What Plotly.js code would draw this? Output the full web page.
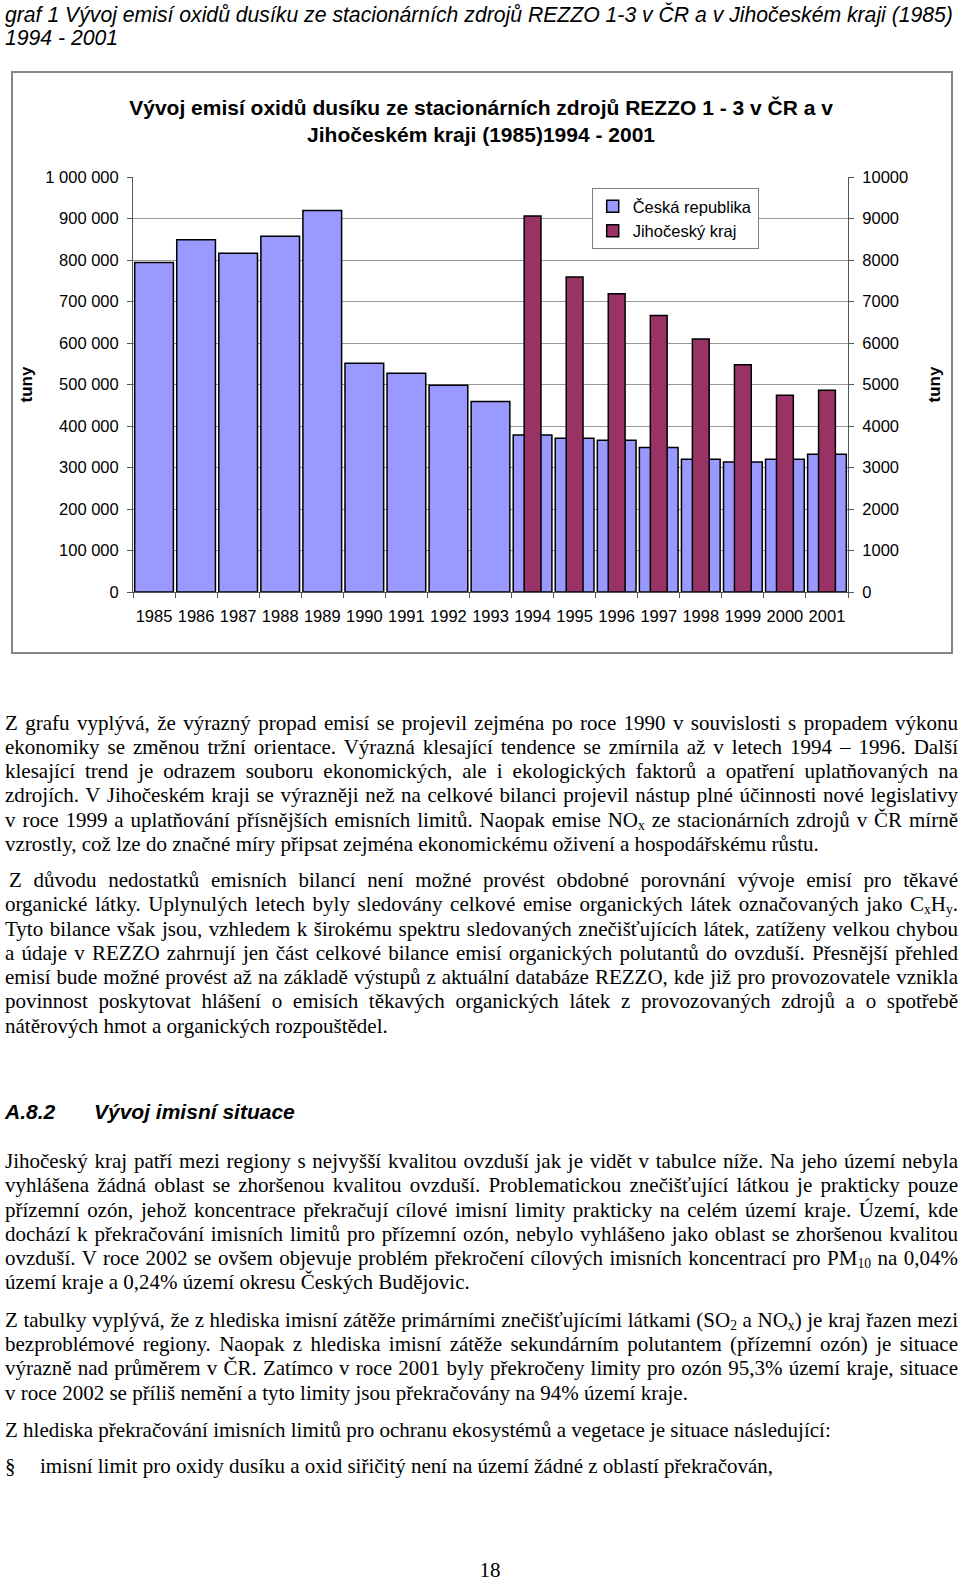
<!DOCTYPE html>
<html>
<head>
<meta charset="utf-8">
<script src="https://cdn.plot.ly/plotly-3.0.1.min.js"></script>
<style>
  html, body { margin: 0; padding: 0; background: #fff; }
  body { width: 960px; height: 1584px; position: relative; overflow: hidden; }
  .caption { position: absolute; left: 5px; top: 4px; font-family: "Liberation Sans", Arial, sans-serif; font-style: italic; font-size: 21.2px; line-height: 22.6px; white-space: nowrap; color: #000; }
  #chartbox { position: absolute; left: 11px; top: 71px; width: 938px; height: 579px; border: 2px solid #858585; }
  #chart { width: 938px; height: 579px; }
  .para { position: absolute; left: 5px; width: 953px; font-family: "Liberation Serif", "Times New Roman", serif; font-size: 21px; line-height: 24.3px; color: #000; }
  .ln { text-align: justify; text-align-last: justify; white-space: nowrap; }
  .last { text-align: left; text-align-last: left; }
  sub { font-size: 0.65em; vertical-align: -0.25em; line-height: 0; }
  .heading { position: absolute; left: 5px; top: 1100px; font-family: "Liberation Sans", Arial, sans-serif; font-weight: bold; font-style: italic; font-size: 21px; line-height: 24px; white-space: nowrap; }
  .heading span.t { position: absolute; left: 89px; top: 0; }
  .pnum { position: absolute; left: 0; width: 980px; text-align: center; top: 1558px; font-family: "Liberation Serif", "Times New Roman", serif; font-size: 21px; line-height: 24.3px; }
</style>
</head>
<body>
<div class="caption">graf 1 Vývoj emisí oxidů dusíku ze stacionárních zdrojů REZZO 1-3 v ČR a v Jihočeském kraji (1985)<br>1994 - 2001</div>

<div id="chartbox"><div id="chart"></div></div>

<div class="para" style="top:710.5px">
  <div class="ln">Z grafu vyplývá, že výrazný propad emisí se projevil zejména po roce 1990 v souvislosti s propadem výkonu</div>
  <div class="ln">ekonomiky se změnou tržní orientace. Výrazná klesající tendence se zmírnila až v letech 1994 – 1996. Další</div>
  <div class="ln">klesající trend je odrazem souboru ekonomických, ale i ekologických faktorů a opatření uplatňovaných na</div>
  <div class="ln">zdrojích. V Jihočeském kraji se výrazněji než na celkové bilanci projevil nástup plné účinnosti nové legislativy</div>
  <div class="ln">v roce 1999 a uplatňování přísnějších emisních limitů. Naopak emise NO<sub>x</sub> ze stacionárních zdrojů v ČR mírně</div>
  <div class="ln last">vzrostly, což lze do značné míry připsat zejména ekonomickému oživení a hospodářskému růstu.</div>
</div>

<div class="para" style="top:868px">
  <div class="ln" style="padding-left:4px">Z důvodu nedostatků emisních bilancí není možné provést obdobné porovnání vývoje emisí pro těkavé</div>
  <div class="ln">organické látky. Uplynulých letech byly sledovány celkové emise organických látek označovaných jako C<sub>x</sub>H<sub>y</sub>.</div>
  <div class="ln">Tyto bilance však jsou, vzhledem k širokému spektru sledovaných znečišťujících látek, zatíženy velkou chybou</div>
  <div class="ln">a údaje v REZZO zahrnují jen část celkové bilance emisí organických polutantů do ovzduší. Přesnější přehled</div>
  <div class="ln">emisí bude možné provést až na základě výstupů z aktuální databáze REZZO, kde již pro provozovatele vznikla</div>
  <div class="ln">povinnost poskytovat hlášení o emisích těkavých organických látek z provozovaných zdrojů a o spotřebě</div>
  <div class="ln last">nátěrových hmot a organických rozpouštědel.</div>
</div>

<div class="heading">A.8.2<span class="t">Vývoj imisní situace</span></div>

<div class="para" style="top:1149px">
  <div class="ln">Jihočeský kraj patří mezi regiony s nejvyšší kvalitou ovzduší jak je vidět v tabulce níže. Na jeho území nebyla</div>
  <div class="ln">vyhlášena žádná oblast se zhoršenou kvalitou ovzduší. Problematickou znečišťující látkou je prakticky pouze</div>
  <div class="ln">přízemní ozón, jehož koncentrace překračují cílové imisní limity prakticky na celém území kraje. Území, kde</div>
  <div class="ln">dochází k překračování imisních limitů pro přízemní ozón, nebylo vyhlášeno jako oblast se zhoršenou kvalitou</div>
  <div class="ln">ovzduší. V roce 2002 se ovšem objevuje problém překročení cílových imisních koncentrací pro PM<sub>10</sub> na 0,04%</div>
  <div class="ln last">území kraje a 0,24% území okresu Českých Budějovic.</div>
</div>

<div class="para" style="top:1307.7px">
  <div class="ln">Z tabulky vyplývá, že z hlediska imisní zátěže primárními znečišťujícími látkami (SO<sub>2</sub> a NO<sub>x</sub>) je kraj řazen mezi</div>
  <div class="ln">bezproblémové regiony. Naopak z hlediska imisní zátěže sekundárním polutantem (přízemní ozón) je situace</div>
  <div class="ln">výrazně nad průměrem v ČR. Zatímco v roce 2001 byly překročeny limity pro ozón 95,3% území kraje, situace</div>
  <div class="ln last">v roce 2002 se příliš nemění a tyto limity jsou překračovány na 94% území kraje.</div>
</div>

<div class="para" style="top:1418px">
  <div class="ln last">Z hlediska překračování imisních limitů pro ochranu ekosystémů a vegetace je situace následující:</div>
</div>

<div class="para" style="top:1454px">
  <div class="ln last">§<span style="position:absolute; left:35px">imisní limit pro oxidy dusíku a oxid siřičitý není na území žádné z oblastí překračován,</span></div>
</div>

<div class="pnum">18</div>

<script>
// ---- data ----
var years = ['1985','1986','1987','1988','1989','1990','1991','1992','1993','1994','1995','1996','1997','1998','1999','2000','2001'];
var crValues = [794000, 849000, 816000, 857000, 919000, 551000, 527000, 498000, 459000, 378500, 370500, 365700, 348000, 320000, 313500, 320000, 332000];
var jkYears = ['1994','1995','1996','1997','1998','1999','2000','2001'];
var jkValues = [9060, 7590, 7185, 6665, 6095, 5477, 4740, 4860];
var seriesNames = ['Česká republika', 'Jihočeský kraj'];
var chartTitle = 'Vývoj emisí oxidů dusíku ze stacionárních zdrojů REZZO 1 - 3 v ČR a v<br>Jihočeském kraji (1985)1994 - 2001';
var axisTitle = 'tuny';

var FONT = '"Liberation Sans", Arial, sans-serif';

var traces = [
  {
    type: 'bar', name: seriesNames[0], x: years, y: crValues,
    xaxis: 'x', yaxis: 'y', width: 0.92,
    marker: { color: '#9999FF', line: { color: '#000', width: 1.5 } },
    hoverinfo: 'skip'
  },
  {
    type: 'bar', name: seriesNames[1], x: jkYears, y: jkValues,
    xaxis: 'x', yaxis: 'y2', width: 0.4,
    marker: { color: '#993366', line: { color: '#000', width: 1.5 } },
    hoverinfo: 'skip'
  }
];

var layout = {
  width: 938, height: 579,
  margin: { l: 120.3, r: 102.7, t: 103.7, b: 59.7, pad: 0 },
  paper_bgcolor: '#fff', plot_bgcolor: '#fff',
  font: { family: FONT, size: 16.5, color: '#000' },
  separators: ', ',
  barmode: 'overlay',
  showlegend: true,
  title: {
    text: chartTitle,
    font: { family: FONT, size: 21, weight: 'bold', color: '#000' },
    xref: 'container', x: 0.499, xanchor: 'center',
    yref: 'container', y: 1 - 41.5 / 579, yanchor: 'middle'
  },
  xaxis: {
    type: 'category', range: [-0.5, 16.5], tickson: 'boundaries',
    ticks: 'outside', ticklen: 5, tickcolor: '#555', tickwidth: 1,
    showline: true, linecolor: '#555', linewidth: 1,
    showgrid: false, ticklabelstandoff: 9, tickangle: 0,
    tickfont: { family: FONT, size: 16.5, color: '#000' }
  },
  yaxis: {
    range: [0, 1000000], dtick: 100000, tick0: 0, tickformat: ',d',
    ticks: 'outside', ticklen: 5, tickcolor: '#555',
    showline: true, linecolor: '#555', linewidth: 1,
    showgrid: true, gridcolor: '#999', gridwidth: 1, zeroline: false,
    ticklabelstandoff: 5,
    tickfont: { family: FONT, size: 16.5, color: '#000' },
    title: { text: axisTitle, font: { family: FONT, size: 17, weight: 'bold', color: '#000' }, standoff: 8 }
  },
  yaxis2: {
    overlaying: 'y', side: 'right', anchor: 'x',
    range: [0, 10000], dtick: 1000, tick0: 0, tickformat: 'd',
    ticks: 'outside', ticklen: 5, tickcolor: '#555',
    showline: true, linecolor: '#555', linewidth: 1,
    showgrid: false, zeroline: false, ticklabelstandoff: 5,
    tickfont: { family: FONT, size: 16.5, color: '#000' },
    title: { text: axisTitle, font: { family: FONT, size: 17, weight: 'bold', color: '#000' }, standoff: 20 }
  },
  legend: {
    x: (592 - 133.3) / 715, xanchor: 'left',
    y: (592.3 - 187.7) / 415.6, yanchor: 'top',
    bgcolor: '#fff', bordercolor: '#808080', borderwidth: 1,
    font: { family: FONT, size: 16.5, color: '#000' },
    traceorder: 'normal'
  }
};

Plotly.newPlot('chart', traces, layout, { staticPlot: true, displayModeBar: false });
</script>
</body>
</html>
